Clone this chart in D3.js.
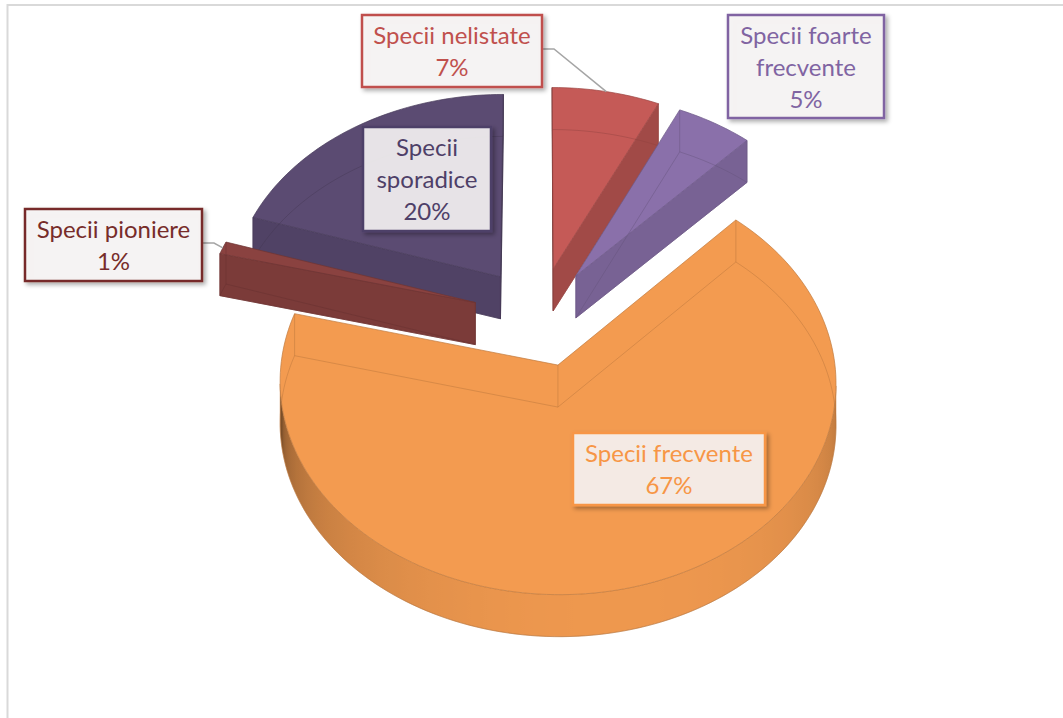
<!DOCTYPE html>
<html>
<head>
<meta charset="utf-8">
<script src="https://cdn.jsdelivr.net/npm/d3@7"></script>
<style>
  html, body { margin: 0; padding: 0; background: #ffffff; }
  svg { display: block; font-family: Lato, "Open Sans", sans-serif; }
</style>
</head>
<body>
<svg id="chart" width="1063" height="718"></svg>
<script>
// ---- data ----
const categories = ["Specii nelistate", "Specii foarte frecvente", "Specii frecvente", "Specii pioniere", "Specii sporadice"];
const values = [7, 5, 67, 1, 20];
const valueLabels = values.map(v => v + "%");

// ---- styles ----
const sliceColors = ["#C55A57", "#8A70AA", "#F39B50", "#8A4240", "#5B4B72"];
const labelColors = ["#C0504D", "#8064A2", "#F79646", "#772C2A", "#4E3F68"];

// label boxes: position, size, max text width used for wrapping, optional leader
const labelBoxes = [
  { x: 362, y: 15,  w: 180, h: 72,  wrap: 210, leader: true },
  { x: 728, y: 15,  w: 156, h: 103, wrap: 150 },
  { x: 573, y: 433, w: 192, h: 72,  wrap: 230 },
  { x: 25,  y: 209, w: 177, h: 72,  wrap: 230, leader: true },
  { x: 363, y: 127, w: 128, h: 104, wrap: 114 }
];

// ---- 3D view ----
// S: horizontal radius (px), a: vertical radius (px), c: depth foreshortening,
// T: slab thickness (px), explode: radial offset of every slice (radius units)
const view = { cx: 539, cy: 358.4, S: 271.8, a: 203, c: 0.08, T: 42, explode: 0.245 };

const svg = d3.select("#chart");
const W = 1063, Hpx = 718;

const defs = svg.append("defs");
const sh = defs.append("filter").attr("id", "shadow")
  .attr("x", "-20%").attr("y", "-20%").attr("width", "150%").attr("height", "150%");
sh.append("feDropShadow").attr("dx", 2.5).attr("dy", 2.5)
  .attr("stdDeviation", 2.2).attr("flood-color", "#000").attr("flood-opacity", 0.35);

// chart area frame
svg.append("path")
  .attr("d", `M7.5,${Hpx} V5 H${W}`)
  .attr("fill", "none").attr("stroke", "#D9D9D9").attr("stroke-width", 2);

// screen scales for the pie plane
const xScale = d3.scaleLinear().domain([-1, 1]).range([view.cx - view.S, view.cx + view.S]);
const yScale = d3.scaleLinear().domain([-1, 1]).range([view.cy + view.a, view.cy - view.a]);

// X right, Z away from the viewer (radius units), Y up (px)
function project(X, Y, Z) {
  const k = 1 / (1 + view.c * Z);
  return [xScale(X * k), yScale(Z * k) - Y, Z];
}

const pie = d3.pie().sort(null).value(d => d).startAngle(0).endAngle(2 * Math.PI);
const arcs = pie(values);

const line = d3.line();
function shadeColor(color, f) { return d3.interpolateRgb("#000000", color)(f); }
function wallShade(normalAngle) {
  const nx = Math.sin(normalAngle), nz = Math.cos(normalAngle);
  const d = Math.max(0, nx * 0.2 - nz * 0.98);
  return 0.5 + 0.48 * Math.pow(d, 0.45);
}
function area(pts) {
  let s = 0;
  for (let i = 0; i < pts.length; i++) {
    const p = pts[i], q = pts[(i + 1) % pts.length];
    s += p[0] * q[1] - q[0] * p[1];
  }
  return s / 2;
}
const meanDepth = pts => d3.mean(pts, p => p[2]);

function buildSlice(arc, i) {
  const a0 = arc.startAngle, a1 = arc.endAngle, mid = (a0 + a1) / 2;
  const E = view.explode, T = view.T;
  const ox = E * Math.sin(mid), oz = E * Math.cos(mid);
  const P = (t, r, y) => project(ox + r * Math.sin(t), y, oz + r * Math.cos(t));
  const n = Math.max(2, Math.ceil((a1 - a0) / (Math.PI / 120)));
  const ts = d3.range(n + 1).map(j => a0 + (a1 - a0) * j / n);

  const top = [P(0, 0, T), ...ts.map(t => P(t, 1, T))];
  const bottom = [P(0, 0, 0), ...ts.map(t => P(t, 1, 0))];

  // outer cylindrical wall, split into runs of front-facing strips
  const strips = [];
  for (let j = 0; j < n; j++) {
    const pts = [P(ts[j], 1, 0), P(ts[j + 1], 1, 0), P(ts[j + 1], 1, T), P(ts[j], 1, T)];
    strips.push({ j, t: (ts[j] + ts[j + 1]) / 2, visible: area(pts) > 0 });
  }
  const runs = [];
  let run = null;
  strips.forEach(st => {
    if (st.visible) { if (!run) { run = []; runs.push(run); } run.push(st); }
    else run = null;
  });
  const outer = runs.map(r => {
    const t0 = ts[r[0].j], t1 = ts[r[r.length - 1].j + 1];
    const seg = ts.filter(t => t >= t0 - 1e-9 && t <= t1 + 1e-9);
    const pts = [...seg.map(t => P(t, 1, T)), ...seg.slice().reverse().map(t => P(t, 1, 0))];
    const stops = r.map(st => ({ x: P(st.t, 1, 0)[0], f: wallShade(st.t) }));
    return { pts, stops, depth: meanDepth(pts) };
  });

  // radial walls
  const radial = [
    { pts: [P(a0, 1, T), P(0, 0, T), P(0, 0, 0), P(a0, 1, 0)], f: 0.93 * wallShade(a0 - Math.PI / 2) },
    { pts: [P(0, 0, T), P(a1, 1, T), P(a1, 1, 0), P(0, 0, 0)], f: 0.93 * wallShade(a1 + Math.PI / 2) }
  ].filter(w => area(w.pts) > 0);
  radial.forEach(w => { w.depth = meanDepth(w.pts); });

  return { i, top, bottom, outer, radial, P, a0, a1,
           depth: P(mid, 0.5, 0)[2], anchor: P(mid, 1, T) };
}

const slices = arcs.map(buildSlice).sort((p, q) => q.depth - p.depth);
const pieG = svg.append("g");
const toPath = pts => line(pts.map(p => [p[0], p[1]])) + "Z";

slices.forEach(s => {
  const base = sliceColors[s.i];
  const g = pieG.append("g");

  const faces = [
    ...s.outer.map(o => ({ kind: "outer", o, depth: o.depth })),
    ...s.radial.map(w => ({ kind: "radial", w, depth: w.depth }))
  ].sort((p, q) => q.depth - p.depth);

  faces.forEach((fc, k) => {
    if (fc.kind === "outer") {
      const o = fc.o;
      const xs = o.stops.map(st => st.x);
      const x0 = d3.min(xs), x1 = d3.max(xs);
      const gid = `wall-${s.i}-${k}`;
      const grad = defs.append("linearGradient").attr("id", gid)
        .attr("gradientUnits", "userSpaceOnUse")
        .attr("x1", x0).attr("y1", 0).attr("x2", x1 === x0 ? x0 + 1 : x1).attr("y2", 0);
      o.stops.slice().sort((p, q) => p.x - q.x).forEach(st => {
        grad.append("stop")
          .attr("offset", x1 === x0 ? 0 : (st.x - x0) / (x1 - x0))
          .attr("stop-color", shadeColor(base, st.f));
      });
      g.append("path").attr("d", toPath(o.pts))
        .attr("fill", `url(#${gid})`)
        .attr("stroke", shadeColor(base, 0.82)).attr("stroke-width", 0.8).attr("stroke-opacity", 0.6);
    } else {
      const col = shadeColor(base, fc.w.f);
      g.append("path").attr("d", toPath(fc.w.pts))
        .attr("fill", col).attr("stroke", col).attr("stroke-width", 0.8);
    }
  });

  g.append("path").attr("d", toPath(s.top))
    .attr("fill", base).attr("stroke", shadeColor(base, 0.8))
    .attr("stroke-width", 0.9).attr("stroke-opacity", 0.8);

  // edges behind the faces, seen through faintly
  const hg = g.append("g").attr("fill", "none").attr("stroke", shadeColor(base, 0.72))
    .attr("stroke-width", 0.9).attr("stroke-opacity", 0.45);
  hg.append("path").attr("d", toPath(s.bottom));
  const T = view.T;
  [[s.P(0, 0, T), s.P(0, 0, 0)], [s.P(s.a0, 1, T), s.P(s.a0, 1, 0)], [s.P(s.a1, 1, T), s.P(s.a1, 1, 0)]]
    .forEach(seg => hg.append("path").attr("d", line(seg.map(p => [p[0], p[1]]))));
});

// ---- labels ----
const labelG = svg.append("g").attr("font-size", 24);
const sliceByIndex = {};
slices.forEach(s => { sliceByIndex[s.i] = s; });

categories.forEach((cat, i) => {
  const b = labelBoxes[i];
  const col = labelColors[i];

  if (b.leader) {
    const an = sliceByIndex[i].anchor;
    const sx = b.x + b.w, sy = b.y + b.h / 2 - 2;
    labelG.append("path")
      .attr("d", line([[sx, sy], [sx + 12, sy], [an[0], an[1]]]))
      .attr("fill", "none").attr("stroke", "#A5A5A5").attr("stroke-width", 1.5);
  }

  labelG.append("rect")
    .attr("x", b.x).attr("y", b.y).attr("width", b.w).attr("height", b.h)
    .attr("fill", "#F8F6F6").attr("fill-opacity", 0.88)
    .attr("stroke", col).attr("stroke-width", 2.5)
    .attr("filter", "url(#shadow)");

  // wrap the category name to the box width
  const probe = labelG.append("text").attr("visibility", "hidden");
  const lines = [];
  let cur = "";
  cat.split(" ").forEach(wd => {
    const trial = cur ? cur + " " + wd : wd;
    probe.text(trial);
    if (cur && probe.node().getComputedTextLength() > b.wrap) { lines.push(cur); cur = wd; }
    else cur = trial;
  });
  lines.push(cur);
  probe.remove();
  lines.push(valueLabels[i]);

  const cyb = b.y + b.h / 2, lh = 32;
  const t = labelG.append("text").attr("fill", col).attr("text-anchor", "middle");
  lines.forEach((ln, k) => {
    t.append("tspan").attr("x", b.x + b.w / 2)
      .attr("y", cyb - (lines.length - 1) * lh / 2 + k * lh + 9)
      .text(ln);
  });
});
</script>
</body>
</html>
